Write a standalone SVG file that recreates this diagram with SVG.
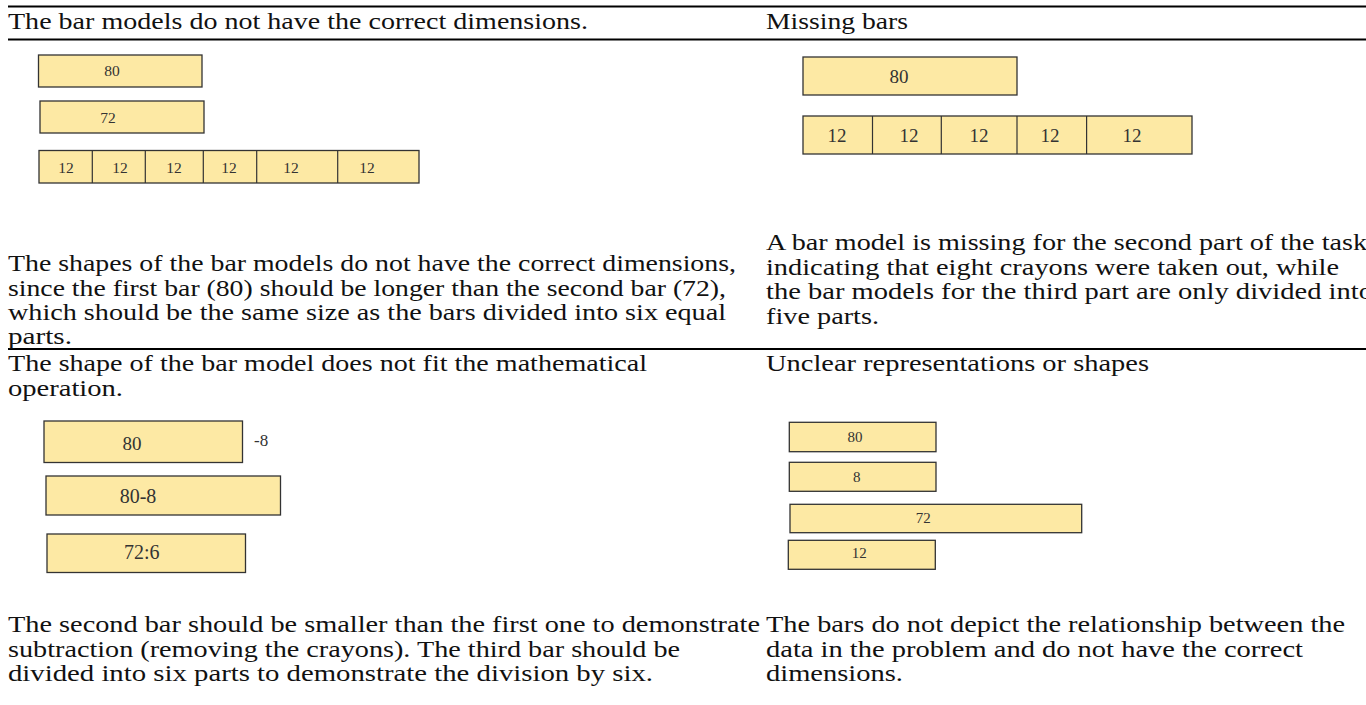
<svg xmlns="http://www.w3.org/2000/svg" width="1366" height="705" viewBox="0 0 1366 705">
<style>
.t{font-family:"Liberation Serif","Times New Roman",serif;font-size:23px;fill:#111}
.rule{stroke:#000;stroke-width:1.8}
.bar{fill:#fde9a4;stroke:#333;stroke-width:1.3}
.div{stroke:#333;stroke-width:1.2}
.lb{font-family:"Liberation Serif","Times New Roman",serif;fill:#333;text-anchor:middle}
</style>
<rect width="1366" height="705" fill="#fff"/>
<g id="rules">
<line class="rule" x1="8" y1="6.5" x2="1366" y2="6.5"/>
<line class="rule" x1="8" y1="39.5" x2="1366" y2="39.5"/>
<line class="rule" x1="8" y1="349" x2="1366" y2="349"/>
</g>
<g id="headers">
<text class="t" x="8" y="29" textLength="580" lengthAdjust="spacingAndGlyphs">The bar models do not have the correct dimensions.</text>
<text class="t" x="766" y="29" textLength="142" lengthAdjust="spacingAndGlyphs">Missing bars</text>
<text class="t" x="8" y="371" textLength="639" lengthAdjust="spacingAndGlyphs">The shape of the bar model does not fit the mathematical</text>
<text class="t" x="8" y="395.5" textLength="115" lengthAdjust="spacingAndGlyphs">operation.</text>
<text class="t" x="766" y="371" textLength="383" lengthAdjust="spacingAndGlyphs">Unclear representations or shapes</text>
</g>
<g id="bars-dimensions">
<rect class="bar" x="38.5" y="55" width="163.5" height="32"/>
<text class="lb" x="112" y="76" font-size="15.5">80</text>
<rect class="bar" x="40" y="101" width="164" height="32"/>
<text class="lb" x="108" y="123" font-size="15.5">72</text>
<rect class="bar" x="39" y="150.5" width="380" height="32.5"/>
<line class="div" x1="92.3" y1="150.5" x2="92.3" y2="183"/>
<line class="div" x1="145.3" y1="150.5" x2="145.3" y2="183"/>
<line class="div" x1="203.3" y1="150.5" x2="203.3" y2="183"/>
<line class="div" x1="256.7" y1="150.5" x2="256.7" y2="183"/>
<line class="div" x1="337.7" y1="150.5" x2="337.7" y2="183"/>
<g font-size="15.5">
<text class="lb" x="66" y="172.5">12</text>
<text class="lb" x="120" y="172.5">12</text>
<text class="lb" x="174" y="172.5">12</text>
<text class="lb" x="229" y="172.5">12</text>
<text class="lb" x="291" y="172.5">12</text>
<text class="lb" x="367" y="172.5">12</text>
</g>
</g>
<g id="bars-missing">
<rect class="bar" x="803" y="57" width="214" height="38"/>
<text class="lb" x="899" y="83" font-size="19">80</text>
<rect class="bar" x="803" y="116" width="389" height="38"/>
<line class="div" x1="872.5" y1="116" x2="872.5" y2="154"/>
<line class="div" x1="941.3" y1="116" x2="941.3" y2="154"/>
<line class="div" x1="1017" y1="116" x2="1017" y2="154"/>
<line class="div" x1="1086.6" y1="116" x2="1086.6" y2="154"/>
<g font-size="19">
<text class="lb" x="837" y="142">12</text>
<text class="lb" x="909" y="142">12</text>
<text class="lb" x="979" y="142">12</text>
<text class="lb" x="1050" y="142">12</text>
<text class="lb" x="1132" y="142">12</text>
</g>
</g>
<g id="desc-dimensions">
<text class="t" x="8" y="271" textLength="728" lengthAdjust="spacingAndGlyphs">The shapes of the bar models do not have the correct dimensions,</text>
<text class="t" x="8" y="295.5" textLength="718" lengthAdjust="spacingAndGlyphs">since the first bar (80) should be longer than the second bar (72),</text>
<text class="t" x="8" y="320" textLength="718" lengthAdjust="spacingAndGlyphs">which should be the same size as the bars divided into six equal</text>
<text class="t" x="8" y="344" textLength="64" lengthAdjust="spacingAndGlyphs">parts.</text>
</g>
<g id="desc-missing">
<text class="t" x="766" y="250" textLength="608" lengthAdjust="spacingAndGlyphs">A bar model is missing for the second part of the task,</text>
<text class="t" x="766" y="274.5" textLength="573" lengthAdjust="spacingAndGlyphs">indicating that eight crayons were taken out, while</text>
<text class="t" x="766" y="299" textLength="607" lengthAdjust="spacingAndGlyphs">the bar models for the third part are only divided into</text>
<text class="t" x="766" y="323.5" textLength="113" lengthAdjust="spacingAndGlyphs">five parts.</text>
</g>
<g id="bars-operation">
<rect class="bar" x="44" y="421" width="198.5" height="41.5"/>
<text class="lb" x="132" y="450" font-size="19">80</text>
<text x="254" y="446" font-family="Liberation Serif, serif" font-size="17" fill="#333">-8</text>
<rect class="bar" x="46" y="476" width="234.5" height="39"/>
<text class="lb" x="138" y="503" font-size="20">80-8</text>
<rect class="bar" x="47" y="534" width="198.5" height="38.5"/>
<text class="lb" x="141.7" y="559" font-size="20">72:6</text>
</g>
<g id="bars-unclear">
<rect class="bar" x="789.3" y="422.3" width="146.7" height="29.4"/>
<text class="lb" x="855" y="441.7" font-size="15">80</text>
<rect class="bar" x="789.3" y="462.3" width="146.7" height="29"/>
<text class="lb" x="856.7" y="481.7" font-size="15">8</text>
<rect class="bar" x="790" y="504.3" width="291.7" height="28.4"/>
<text class="lb" x="923.3" y="523.3" font-size="15">72</text>
<rect class="bar" x="788.3" y="540.3" width="147" height="29"/>
<text class="lb" x="859.3" y="557.7" font-size="15">12</text>
</g>
<g id="desc-operation">
<text class="t" x="8" y="632" textLength="752" lengthAdjust="spacingAndGlyphs">The second bar should be smaller than the first one to demonstrate</text>
<text class="t" x="8" y="656.5" textLength="672" lengthAdjust="spacingAndGlyphs">subtraction (removing the crayons). The third bar should be</text>
<text class="t" x="8" y="681" textLength="645" lengthAdjust="spacingAndGlyphs">divided into six parts to demonstrate the division by six.</text>
</g>
<g id="desc-unclear">
<text class="t" x="766" y="632" textLength="579" lengthAdjust="spacingAndGlyphs">The bars do not depict the relationship between the</text>
<text class="t" x="766" y="656.5" textLength="537" lengthAdjust="spacingAndGlyphs">data in the problem and do not have the correct</text>
<text class="t" x="766" y="681" textLength="137" lengthAdjust="spacingAndGlyphs">dimensions.</text>
</g>
</svg>
